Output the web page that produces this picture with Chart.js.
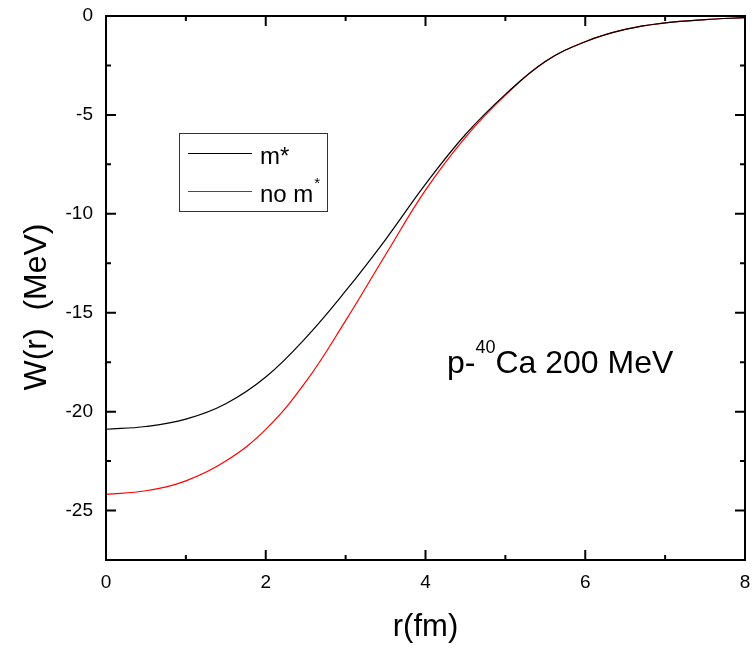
<!DOCTYPE html>
<html>
<head>
<meta charset="utf-8">
<script src="https://cdn.jsdelivr.net/npm/chart.js@4/dist/chart.umd.min.js"></script>
<style>
  html, body { margin: 0; padding: 0; background: #fff; }
  #wrap { width: 752px; height: 651px; }
</style>
</head>
<body>
<div id="wrap"><canvas id="wChart" width="752" height="651"></canvas></div>
<script>
// r in fm
const rValues = [0, 0.5, 1, 1.5, 2, 2.5, 3, 3.5, 4, 4.5, 5, 5.5, 6, 6.5, 7, 7.5, 8];
// W(r) in MeV, with effective mass
const wMstar = [-20.89, -20.75, -20.38, -19.6, -18.25, -16.27, -13.9, -11.3, -8.5, -5.99, -3.96, -2.3, -1.3, -0.68, -0.35, -0.18, -0.08];
// W(r) in MeV, without effective mass
const wNoMstar = [-24.18, -24.0, -23.5, -22.5, -20.9, -18.5, -15.4, -12.07, -8.8, -6.13, -4.0, -2.3, -1.3, -0.68, -0.35, -0.18, -0.08];

const xTicks = [0, 2, 4, 6, 8];
const xMinorTicks = [1, 3, 5, 7];
const yTicks = [0, -5, -10, -15, -20, -25];
const yMinorTicks = [-2.5, -7.5, -12.5, -17.5, -22.5, -27.5];

const FONT = 'Arial, "Liberation Sans", sans-serif';

// frame, inward ticks, y title, legend box and label
const decorPlugin = {
  id: 'decor',
  afterDraw(chart) {
    const ctx = chart.ctx;
    const a = chart.chartArea;
    const xs = chart.scales.x, ys = chart.scales.y;
    ctx.save();
    ctx.strokeStyle = '#000';
    ctx.lineWidth = 2;
    ctx.strokeRect(a.left, a.top, a.right - a.left, a.bottom - a.top);

    ctx.beginPath();
    const tick = (vals, len) => {
      vals.forEach(v => {
        const px = xs.getPixelForValue(v);
        ctx.moveTo(px, a.bottom); ctx.lineTo(px, a.bottom - len);
        ctx.moveTo(px, a.top); ctx.lineTo(px, a.top + len);
      });
    };
    const ytick = (vals, len) => {
      vals.forEach(v => {
        const py = ys.getPixelForValue(v);
        ctx.moveTo(a.left, py); ctx.lineTo(a.left + len, py);
        ctx.moveTo(a.right, py); ctx.lineTo(a.right - len, py);
      });
    };
    tick(xTicks, 10); tick(xMinorTicks, 5);
    ytick(yTicks, 10); ytick(yMinorTicks, 5);
    ctx.stroke();

    ctx.fillStyle = '#000';

    // y axis title
    ctx.save();
    ctx.translate(37, 307);
    ctx.rotate(-Math.PI / 2);
    ctx.textAlign = 'center';
    ctx.textBaseline = 'middle';
    ctx.font = '32px ' + FONT;
    ctx.fillText('W(r)  (MeV)', 0, 0);
    ctx.restore();

    // legend
    ctx.lineWidth = 1;
    ctx.strokeStyle = '#333';
    ctx.strokeRect(179.5, 133.5, 148, 78);
    ctx.strokeStyle = '#000';
    ctx.beginPath(); ctx.moveTo(188, 153.5); ctx.lineTo(252, 153.5); ctx.stroke();
    ctx.strokeStyle = '#ff0000';
    ctx.beginPath(); ctx.moveTo(188, 191.5); ctx.lineTo(252, 191.5); ctx.stroke();
    ctx.textBaseline = 'alphabetic';
    ctx.textAlign = 'left';
    ctx.font = '24px ' + FONT;
    ctx.fillText('m*', 260, 164);
    ctx.fillText('no m', 260, 202);
    const w = ctx.measureText('no m').width;
    ctx.font = '15px ' + FONT;
    ctx.fillText('*', 261 + w, 188);

    // reaction label
    ctx.font = '32px ' + FONT;
    ctx.fillText('p-', 447, 373);
    let x = 447 + ctx.measureText('p-').width;
    ctx.font = '18px ' + FONT;
    ctx.fillText('40', x, 353);
    x += ctx.measureText('40').width;
    ctx.font = '32px ' + FONT;
    ctx.fillText('Ca 200 MeV', x, 373);
    ctx.restore();
  }
};

new Chart(document.getElementById('wChart').getContext('2d'), {
  type: 'scatter',
  data: {
    datasets: [
      {
        label: 'm*',
        data: rValues.map((r, i) => ({ x: r, y: wMstar[i] })),
        showLine: true,
        borderColor: '#000',
        borderWidth: 1.2,
        pointRadius: 0,
        tension: 0.4
      },
      {
        label: 'no m*',
        data: rValues.map((r, i) => ({ x: r, y: wNoMstar[i] })),
        showLine: true,
        borderColor: '#ff0000',
        borderWidth: 1.2,
        pointRadius: 0,
        tension: 0.4
      }
    ]
  },
  options: {
    responsive: false,
    animation: false,
    layout: { padding: { top: 16, right: 7, left: 0, bottom: 0 } },
    plugins: { legend: { display: false }, tooltip: { enabled: false } },
    scales: {
      x: {
        type: 'linear',
        min: 0, max: 8,
        afterBuildTicks: s => { s.ticks = xTicks.map(v => ({ value: v })); },
        afterFit: s => { s.height = 91; s.paddingLeft = 0; s.paddingRight = 0; },
        grid: { display: false, drawTicks: false },
        border: { display: false },
        ticks: { color: '#000', font: { size: 19, family: FONT }, padding: 11, maxRotation: 0 },
        title: { display: true, text: 'r(fm)', color: '#000', font: { size: 31, family: FONT }, padding: { top: 0, bottom: 5 } }
      },
      y: {
        type: 'linear',
        min: -27.5, max: 0,
        afterBuildTicks: s => { s.ticks = yTicks.map(v => ({ value: v })); },
        afterFit: s => { s.width = 106; s.paddingTop = 0; s.paddingBottom = 0; },
        grid: { display: false, drawTicks: false },
        border: { display: false },
        ticks: { color: '#000', font: { size: 19, family: FONT }, padding: 13 },
        title: { display: false }
      }
    }
  },
  plugins: [decorPlugin]
});
</script>
</body>
</html>
